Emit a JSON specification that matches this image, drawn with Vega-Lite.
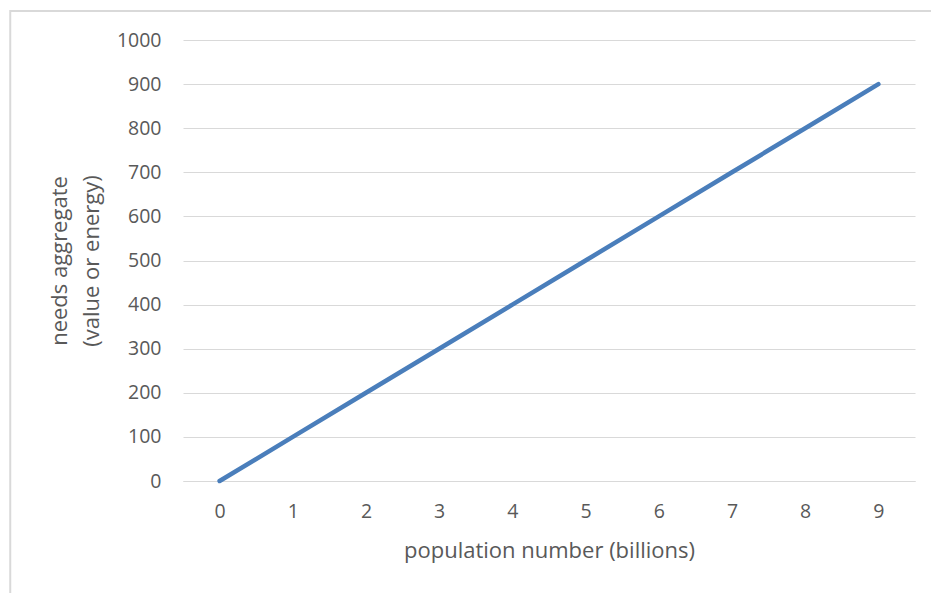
{
  "$schema": "https://vega.github.io/schema/vega-lite/v6.json",
  "autosize": {"type": "none"},
  "padding": {"left": 183, "top": 40, "right": 16, "bottom": 112},
  "width": 732,
  "height": 441,
  "background": "white",
  "config": {
    "view": {"stroke": null},
    "font": "Open Sans",
    "axis": {"labelFont": "Open Sans", "titleFont": "Open Sans", "labelColor": "#595959", "titleColor": "#595959", "titleFontWeight": "normal", "labelFontSize": 19.5, "titleFontSize": 22}
  },
  "datasets": {
    "series": [
      {"population": 0, "needs": 0},
      {"population": 1, "needs": 100},
      {"population": 2, "needs": 200},
      {"population": 3, "needs": 300},
      {"population": 4, "needs": 400},
      {"population": 5, "needs": 500},
      {"population": 6, "needs": 600},
      {"population": 7, "needs": 700},
      {"population": 8, "needs": 800},
      {"population": 9, "needs": 900}
    ],
    "frame": [{"x0": -2.86, "x1": 10.5, "y0": 1066, "y1": -400}]
  },
  "layer": [
    {
      "data": {"name": "frame"},
      "mark": {"type": "rect", "fill": null, "stroke": "#d9d9d9", "strokeWidth": 2, "clip": false},
      "encoding": {
        "x": {"field": "x0", "type": "quantitative", "scale": {"domain": [-0.5, 9.5]}},
        "x2": {"field": "x1"},
        "y": {"field": "y0", "type": "quantitative", "scale": {"domain": [0, 1000]}},
        "y2": {"field": "y1"}
      }
    },
    {
      "data": {"name": "series"},
      "mark": {"type": "line", "color": "#4a7ebb", "strokeWidth": 4.5, "strokeCap": "round"},
      "encoding": {
        "x": {
          "field": "population", "type": "quantitative",
          "scale": {"domain": [-0.5, 9.5], "nice": false, "zero": false},
          "axis": {
            "values": [0, 1, 2, 3, 4, 5, 6, 7, 8, 9], "format": "d",
            "grid": false, "ticks": false, "domain": true, "domainColor": "#d9d9d9", "domainWidth": 1,
            "labelPadding": 21, "title": "population number (billions)", "titlePadding": 20
          }
        },
        "y": {
          "field": "needs", "type": "quantitative",
          "scale": {"domain": [0, 1000], "nice": false},
          "axis": {
            "values": [0, 100, 200, 300, 400, 500, 600, 700, 800, 900, 1000], "format": "d",
            "grid": true, "gridColor": "#d9d9d9", "gridWidth": 1,
            "ticks": false, "domain": false, "labelPadding": 22,
            "title": ["needs aggregate", "(value or energy)"], "titlePadding": 13, "titleLineHeight": 32
          }
        }
      }
    }
  ]
}
